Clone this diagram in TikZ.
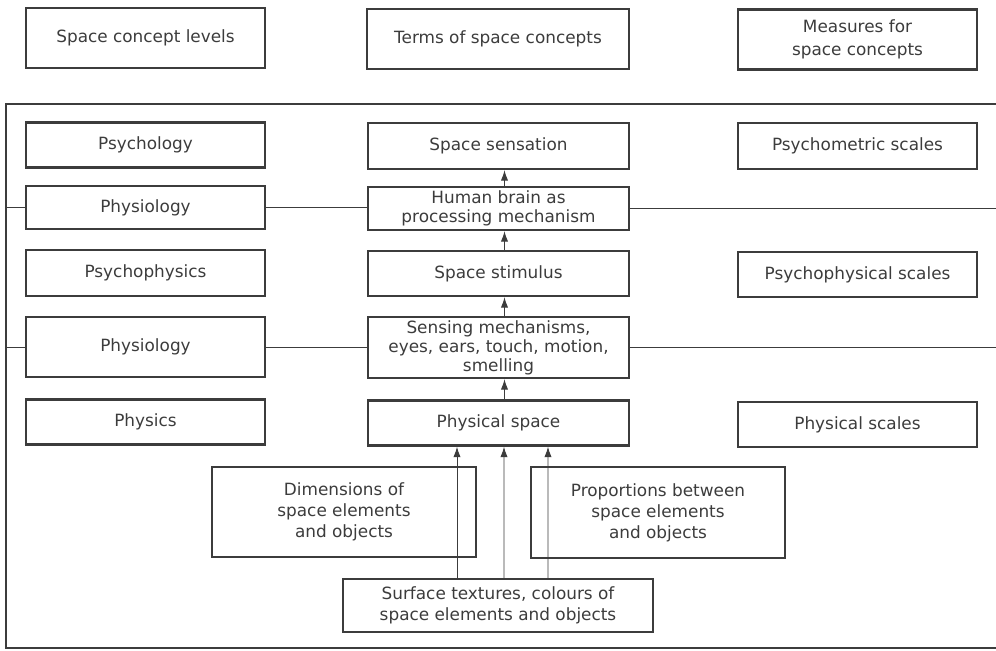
\documentclass[tikz,border=0pt]{standalone}
\usepackage{fontspec}
\setmainfont{DejaVu Sans}
\usepackage{tikz}
\usetikzlibrary{positioning,arrows.meta,calc}
\definecolor{ink}{RGB}{60,60,60}
\tikzset{
  box/.style  = {rectangle, draw=ink, line width=1.6pt,
                 minimum width=5.975cm, minimum height=1.125cm,
                 align=center, inner sep=0pt, text=ink,
                 font=\fontsize{12}{13.5}\selectfont},
  tall/.style = {box, minimum height=1.5cm},
  mid/.style  = {box, minimum width=6.525cm},
  arr/.style  = {-{Latex[length=2.6mm,width=1.8mm]}, draw=ink, line width=0.7pt},
  link/.style = {draw=ink, line width=0.7pt}
}

\begin{document}
\begin{tikzpicture}[x=0.025cm, y=-0.025cm]
\useasboundingbox (0,0) rectangle (996,651);

% --- Kopfzeile ---------------------------------------------------
\node[tall] (levels) at (145.5,38)  {Space concept levels};
\node[tall, minimum width=6.55cm] (terms) at (498,39) {Terms of space concepts};
\node[tall, font=\fontsize{12}{16}\selectfont] (measures) at (857.5,39.5) {Measures for\\space concepts};

% --- Rahmen ------------------------------------------------------
\coordinate (fTL) at (6,104);
\coordinate (fBL) at (6,648);
\coordinate (fTR) at (996,104);
\coordinate (fBR) at (996,648);
\draw[link, line width=0.9pt] (fTR) -- (fTL) -- (fBL) -- (fBR);

% --- Ebenen (links) ----------------------------------------------
\node[box]                    (psy)   at (145.5,145)   {Psychology};
\node[box, minimum height=1.075cm] (phyA) at (145.5,207.5) {Physiology};
\node[box, minimum height=1.15cm]  (pph)  at (145.5,273)   {Psychophysics};
\node[tall]                   (phyB)  at (145.5,347)   {Physiology};
\node[box]                    (phs)   at (145.5,422)   {Physics};

% --- Begriffe (Mitte) --------------------------------------------
\node[mid, minimum height=1.15cm]  (sens)  at (498.5,146)   {Space sensation};
\node[mid, minimum height=1.075cm] (brain) at (498.5,208.5) {Human brain as\\processing mechanism};
\node[mid]                    (stim)  at (498.5,273.5) {Space stimulus};
\node[mid, minimum height=1.525cm] (sensing) at (498.5,347.5)
      {Sensing mechanisms,\\eyes, ears, touch, motion,\\smelling};
\node[mid]                    (phspace) at (498.5,423) {Physical space};

% --- Masse (rechts) ----------------------------------------------
\node[box, minimum height=1.15cm] (pmet) at (857.5,146)   {Psychometric scales};
\node[box]                    (ppsc)  at (857.5,274.5) {Psychophysical scales};
\node[box]                    (phsc)  at (857.5,424.5) {Physical scales};

% --- Grundlagen (unten) ------------------------------------------
\node[box, minimum width=6.6cm, minimum height=2.25cm, font=\fontsize{12}{15}\selectfont]
      (dims) at (344,512) {Dimensions of\\space elements\\and objects};
\node[box, minimum width=6.35cm, minimum height=2.275cm, font=\fontsize{12}{15}\selectfont]
      (props) at (658,512.5) {Proportions between\\space elements\\and objects};
\node[box, minimum width=7.75cm, minimum height=1.325cm, font=\fontsize{12}{15}\selectfont]
      (surf) at (498,605.5) {Surface textures, colours of\\space elements and objects};

% --- Pfeile ------------------------------------------------------
\draw[arr] ($(surf.north)+(6,0)$)   -- ($(phspace.south)+(5.5,0)$);
\draw[arr] ($(surf.north)+(-41,0)$) -- ($(phspace.south)+(-41.5,0)$);
\draw[arr] ($(surf.north)+(50,0)$)  -- ($(phspace.south)+(49.5,0)$);
\draw[arr] ($(phspace.north)+(6,0)$) -- ($(sensing.south)+(6,0)$);
\draw[arr] ($(sensing.north)+(6,0)$) -- ($(stim.south)+(6,0)$);
\draw[arr] ($(stim.north)+(6,0)$)    -- ($(brain.south)+(6,0)$);
\draw[arr] ($(brain.north)+(6,0)$)   -- ($(sens.south)+(6,0)$);

% --- Querlinien Physiologie --------------------------------------
\draw[link] (phyA.west -| fTL) -- (phyA.west);
\draw[link] (phyA.east) -- (phyA.east -| brain.west);
\draw[link] (brain.east) -- (brain.east -| fTR);
\draw[link] (phyB.west -| fTL) -- (phyB.west);
\draw[link] (phyB.east) -- (phyB.east -| sensing.west);
\draw[link] (sensing.east) -- (sensing.east -| fTR);
\end{tikzpicture}
\end{document}
